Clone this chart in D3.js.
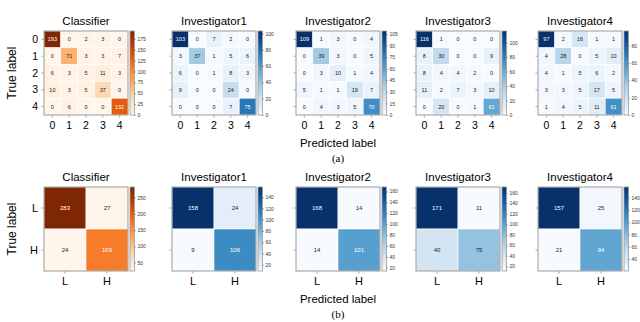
<!DOCTYPE html>
<html lang="en">
<head>
<meta charset="UTF-8">
<title>Confusion matrices</title>
<script src="https://d3js.org/d3.v7.min.js"></script>
<style>
  body { margin: 0; background: #fff; }
  svg { display: block; font-family: "Liberation Sans", Arial, sans-serif; }
  .cbar text { font-size: 5px; fill: #333; }
  .cbar path.domain { display: none; }
  .cbar line { stroke: #555; stroke-width: 0.5; }
</style>
</head>
<body>
<svg id="chart" width="640" height="322"></svg>
<script>
// panel names and class labels
const panelNames = ["Classifier", "Investigator1", "Investigator2", "Investigator3", "Investigator4"];
const classes5 = ["0", "1", "2", "3", "4"];
const classes2 = ["L", "H"];

// (a) five-class confusion matrices, rows = true, cols = predicted
const multiClassifier = [[193,0,2,3,0],[0,71,3,3,7],[6,3,5,11,3],[10,3,5,37,0],[0,6,0,0,132]];
const multiInv1 = [[103,0,7,2,0],[3,37,1,5,6],[6,0,1,8,3],[9,0,0,24,0],[0,0,0,7,75]];
const multiInv2 = [[109,1,3,0,4],[0,39,3,0,5],[0,3,10,1,4],[5,1,1,19,7],[0,4,3,5,70]];
const multiInv3 = [[116,1,0,0,0],[8,30,0,0,9],[8,4,4,2,0],[11,2,7,3,10],[0,20,0,1,61]];
const multiInv4 = [[97,2,16,1,1],[4,28,0,5,10],[4,1,5,6,2],[3,3,5,17,5],[1,4,5,11,61]];

// (b) two-class (L/H) confusion matrices
const binClassifier = [[283,27],[24,169]];
const binInv1 = [[158,24],[9,106]];
const binInv2 = [[168,14],[14,101]];
const binInv3 = [[171,11],[40,75]];
const binInv4 = [[157,25],[21,94]];

// colorbar tick values
const topTicks = [
  [0,25,50,75,100,125,150,175],
  [0,20,40,60,80,100],
  [0,15,30,45,60,75,90,105],
  [0,20,40,60,80,100],
  [0,20,40,60,80]
];
const bottomTicks = [
  [50,100,150,200,250],
  [20,40,60,80,100,120,140],
  [20,40,60,80,100,120,140,160],
  [20,40,60,80,100,120,140,160],
  [40,60,80,100,120,140]
];

const multiData = [multiClassifier, multiInv1, multiInv2, multiInv3, multiInv4];
const binData = [binClassifier, binInv1, binInv2, binInv3, binInv4];

const svg = d3.select("#chart");
const defs = svg.append("defs");

const panelLeft = [44, 172, 296, 416, 538];
const size = 84;
let gradId = 0;

function drawPanel(matrix, labels, name, idx, top, ticks) {
  const left = panelLeft[idx];
  const interp = idx === 0 ? d3.interpolateOranges : d3.interpolateBlues;
  const flat = matrix.flat();
  const lo = d3.min(flat), hi = d3.max(flat);
  const color = d3.scaleSequential(interp).domain([lo, hi]);

  const x = d3.scaleBand().domain(labels).range([left, left + size]);
  const y = d3.scaleBand().domain(labels).range([top, top + size]);
  const g = svg.append("g");

  // cells
  matrix.forEach((row, i) => {
    row.forEach((v, j) => {
      g.append("rect")
        .attr("x", x(labels[j])).attr("y", y(labels[i]))
        .attr("width", x.bandwidth()).attr("height", y.bandwidth())
        .attr("fill", color(v))
        .attr("stroke", "#fff").attr("stroke-width", 0.6);
      g.append("text")
        .attr("x", x(labels[j]) + x.bandwidth() / 2)
        .attr("y", y(labels[i]) + y.bandwidth() / 2)
        .attr("dy", "0.35em")
        .attr("text-anchor", "middle")
        .attr("font-size", labels.length === 2 ? 6 : 5.5)
        .attr("fill", v > (hi + lo) / 2 ? "#fff" : "#222")
        .text(v);
    });
  });
  g.append("rect")
    .attr("x", left).attr("y", top).attr("width", size).attr("height", size)
    .attr("fill", "none").attr("stroke", "#999").attr("stroke-width", 1);

  // little tick marks + labels
  labels.forEach(l => {
    g.append("line")
      .attr("x1", x(l) + x.bandwidth() / 2).attr("x2", x(l) + x.bandwidth() / 2)
      .attr("y1", top + size + 0.5).attr("y2", top + size + 2.5)
      .attr("stroke", "#666").attr("stroke-width", 0.6);
    g.append("text")
      .attr("x", x(l) + x.bandwidth() / 2)
      .attr("y", top + size + 14)
      .attr("text-anchor", "middle")
      .attr("font-size", labels.length === 2 ? 11 : 10.5)
      .text(l);
    g.append("line")
      .attr("x1", left - 2.5).attr("x2", left - 0.5)
      .attr("y1", y(l) + y.bandwidth() / 2).attr("y2", y(l) + y.bandwidth() / 2)
      .attr("stroke", "#666").attr("stroke-width", 0.6);
    if (idx === 0) {
      g.append("text")
        .attr("x", left - 6)
        .attr("y", y(l) + y.bandwidth() / 2)
        .attr("dy", "0.35em")
        .attr("text-anchor", "end")
        .attr("font-size", labels.length === 2 ? 11 : 10.5)
        .text(l);
    }
  });

  // title
  g.append("text")
    .attr("x", left + size / 2).attr("y", top - 6)
    .attr("text-anchor", "middle")
    .attr("font-size", 11.5)
    .text(name);

  // colorbar
  const id = "grad" + (gradId++);
  const grad = defs.append("linearGradient").attr("id", id)
    .attr("x1", 0).attr("y1", 1).attr("x2", 0).attr("y2", 0);
  d3.range(0, 1.0001, 0.05).forEach(t => {
    grad.append("stop").attr("offset", t).attr("stop-color", interp(t));
  });
  const cx = left + size + 2;
  const cw = 4.5;
  g.append("rect")
    .attr("x", cx).attr("y", top).attr("width", cw).attr("height", size)
    .attr("fill", `url(#${id})`).attr("stroke", "#999").attr("stroke-width", 0.8);
  const cy = d3.scaleLinear().domain([lo, hi]).range([top + size, top]);
  svg.append("g").attr("class", "cbar")
    .attr("transform", `translate(${cx + cw},0)`)
    .call(d3.axisRight(cy).tickValues(ticks).tickSize(1.5).tickPadding(1.5));
}

const topY = 31, botY = 187;
multiData.forEach((m, i) => drawPanel(m, classes5, panelNames[i], i, topY, topTicks[i]));
binData.forEach((m, i) => drawPanel(m, classes2, panelNames[i], i, botY, bottomTicks[i]));

// axis titles
[[topY, "(a)"], [botY, "(b)"]].forEach(([t, tag]) => {
  svg.append("text")
    .attr("transform", `translate(16,${t + size / 2}) rotate(-90)`)
    .attr("text-anchor", "middle")
    .attr("font-size", 12)
    .text("True label");
  svg.append("text")
    .attr("x", 338).attr("y", t + size + 32)
    .attr("text-anchor", "middle")
    .attr("font-size", 11.5)
    .text("Predicted label");
  svg.append("text")
    .attr("x", 338).attr("y", t + size + 47)
    .attr("text-anchor", "middle")
    .attr("font-family", "Liberation Serif, serif")
    .attr("font-size", 11)
    .text(tag);
});
</script>
</body>
</html>
